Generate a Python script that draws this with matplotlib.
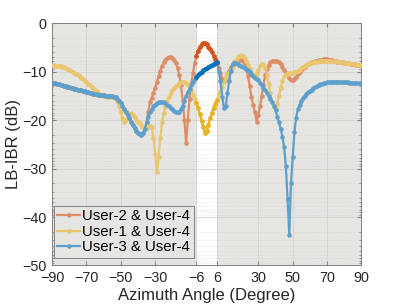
import numpy as np
import matplotlib
matplotlib.use("Agg")
from matplotlib import pyplot as plt
from matplotlib.colors import to_rgb

plt.rcParams['font.family'] = ['Liberation Sans', 'DejaVu Sans']

# azimuth angle, 1 degree steps
angulos = np.arange(-90, 91)

user3_4 = [-12.3, -12.35, -12.4, -12.5, -12.6, -12.7, -12.8, -12.9, -13.0, -13.1,
           -13.2, -13.3, -13.4, -13.5, -13.6, -13.7, -13.8, -13.9, -14.0, -14.1,
           -14.2, -14.3, -14.4, -14.5, -14.55, -14.6, -14.7, -14.8, -14.85, -14.9,
           -14.9, -14.95, -15.0, -15.0, -15.05, -15.1, -15.2, -15.3, -15.6, -16.0,
           -16.4, -17.0, -17.7, -18.4, -19.0, -19.6, -20.3, -21.0, -21.6, -22.2,
           -22.6, -22.9, -23.0, -22.7, -21.8, -20.5, -19.3, -18.4, -17.7, -17.2,
           -16.8, -16.5, -16.3, -16.2, -16.2, -16.3, -16.5, -16.8, -17.1, -17.5,
           -17.8, -18.1, -18.3, -18.4, -18.3, -17.8, -17.0, -16.0, -15.0, -14.2,
           -13.5, -12.8, -12.2, -11.6, -11.1, -10.7, -10.3, -10.0, -9.7, -9.5,
           -9.3, -9.1, -8.9, -8.7, -8.5, -8.2, -8.0, -10.0, -12.0, -15.2,
           -17.5, -17.2, -14.5, -12.0, -9.8, -8.5, -8.2, -8.2, -8.4, -8.6,
           -8.9, -9.1, -9.3, -9.5, -9.7, -10.1, -10.5, -11.0, -11.3, -11.5,
           -11.8, -12.3, -12.8, -13.3, -13.8, -14.4, -15.0, -15.6, -16.2, -17.0,
           -18.0, -19.3, -20.5, -21.8, -23.5, -25.5, -29.5, -36.2, -43.8, -32.9,
           -27.7, -22.5, -19.5, -17.8, -16.8, -16.0, -15.5, -15.1, -14.7, -14.3,
           -14.0, -13.7, -13.4, -13.2, -13.0, -12.8, -12.6, -12.5, -12.4, -12.3,
           -12.2, -12.2, -12.15, -12.1, -12.1, -12.1, -12.1, -12.1, -12.15, -12.2,
           -12.2, -12.2, -12.25, -12.3, -12.3, -12.3, -12.3, -12.35, -12.4, -12.4,
           -12.4]

user1_4 = [-8.7, -8.7, -8.75, -8.8, -8.85, -8.9, -9.0, -9.1, -9.3, -9.5,
           -9.7, -9.9, -10.1, -10.3, -10.5, -10.7, -11.0, -11.3, -11.6, -11.9,
           -12.2, -12.5, -12.8, -13.1, -13.4, -13.7, -14.0, -14.3, -14.6, -14.8,
           -15.0, -15.1, -15.2, -15.2, -15.25, -15.3, -15.4, -15.6, -16.0, -17.0,
           -18.3, -19.6, -20.4, -20.0, -19.2, -18.7, -18.6, -18.9, -19.4, -19.9,
           -20.3, -20.7, -21.1, -21.4, -21.6, -21.6, -21.4, -21.2, -21.5, -23.8,
           -27.0, -30.7, -27.6, -23.6, -20.5, -18.6, -17.2, -16.1, -15.2, -14.5,
           -13.9, -13.4, -13.0, -12.7, -12.4, -12.2, -12.1, -12.2, -12.4, -12.8,
           -13.3, -14.0, -14.8, -15.6, -16.5, -17.6, -18.8, -20.2, -21.5, -22.6,
           -22.3, -21.0, -19.6, -18.5, -17.5, -16.6, -15.8, -14.9, -14.0, -13.1,
           -12.2, -11.3, -10.6, -10.2, -9.6, -9.0, -8.3, -7.6, -7.0, -6.7,
           -6.6, -6.8, -7.3, -7.9, -8.6, -9.4, -10.2, -10.8, -11.0, -10.6,
           -9.7, -8.9, -8.4, -8.4, -9.2, -10.7, -12.6, -14.5, -16.2, -17.4,
           -17.6, -16.6, -15.0, -13.3, -11.9, -11.0, -10.6, -10.4, -10.3, -10.2,
           -10.2, -10.1, -10.0, -9.8, -9.6, -9.3, -9.0, -8.8, -8.6, -8.4,
           -8.3, -8.2, -8.1, -8.0, -7.95, -7.9, -7.85, -7.8, -7.8, -7.75,
           -7.75, -7.75, -7.8, -7.8, -7.85, -7.9, -7.95, -8.0, -8.05, -8.1,
           -8.15, -8.2, -8.25, -8.3, -8.35, -8.4, -8.5, -8.55, -8.6, -8.65,
           -8.7]

user2_4 = [-12.3, -12.35, -12.4, -12.5, -12.6, -12.7, -12.8, -12.9, -13.0, -13.1,
           -13.2, -13.3, -13.4, -13.5, -13.6, -13.7, -13.8, -13.9, -14.0, -14.1,
           -14.2, -14.3, -14.4, -14.5, -14.55, -14.6, -14.7, -14.8, -14.85, -14.9,
           -14.9, -14.95, -15.0, -15.0, -15.05, -15.1, -15.2, -15.3, -15.6, -16.0,
           -16.4, -17.0, -17.7, -18.4, -19.0, -19.6, -20.3, -21.0, -21.6, -22.2,
           -22.6, -22.9, -23.0, -22.7, -21.8, -20.5, -18.3, -16.3, -15.4, -14.4,
           -13.3, -12.2, -11.0, -9.8, -8.8, -8.1, -7.6, -7.2, -7.0, -7.0,
           -7.2, -7.6, -8.3, -9.3, -10.7, -12.8, -15.9, -20.0, -24.8, -20.0,
           -15.6, -12.5, -10.3, -8.2, -6.8, -5.7, -4.9, -4.4, -4.1, -4.1,
           -4.4, -4.9, -5.4, -6.0, -6.7, -7.5, -8.3, -9.3, -10.3, -11.5,
           -12.0, -11.5, -10.6, -9.8, -9.1, -8.5, -8.1, -7.8, -7.6, -7.6,
           -7.7, -7.9, -8.3, -9.4, -11.0, -13.0, -15.2, -16.9, -18.4, -20.3,
           -19.0, -17.2, -15.0, -12.7, -10.8, -9.5, -8.6, -8.1, -7.9, -7.8,
           -7.8, -7.9, -8.1, -8.5, -9.0, -9.6, -10.2, -10.8, -11.3, -11.7,
           -11.8, -11.6, -11.1, -10.6, -10.0, -9.6, -9.3, -9.0, -8.7, -8.5,
           -8.3, -8.1, -8.0, -7.9, -7.8, -7.7, -7.6, -7.55, -7.5, -7.5,
           -7.5, -7.55, -7.6, -7.7, -7.8, -7.9, -7.95, -8.0, -8.05, -8.1,
           -8.15, -8.2, -8.25, -8.3, -8.35, -8.4, -8.5, -8.55, -8.6, -8.65,
           -8.7]

series = [user2_4, user1_4, user3_4]
nombres = ['User-2 & User-4', 'User-1 & User-4', 'User-3 & User-4']
colores = ['#D95319', '#EDB120', '#0072BD']
fondo = '#e6e5e2'

xticks = [-90, -70, -50, -30, -6, 6, 30, 50, 70, 90]
yticks = [0, -10, -20, -30, -40, -50]


def desvanecer(col, a=0.6):
    c = np.array(to_rgb(col))
    f = np.array(to_rgb(fondo))
    return tuple(a * c + (1 - a) * f)


fig = plt.figure(figsize=(3.99, 3.08), dpi=100)
ax = fig.add_axes([0.1303, 0.138, 0.7757, 0.787])
ax.set_facecolor('white')
ax.axvspan(-90, -6, color=fondo, zorder=0, lw=0)
ax.axvspan(6, 90, color=fondo, zorder=0, lw=0)

x = angulos
dentro = (x >= -6) & (x <= 6)
for y, nom, col in zip(series, nombres, colores):
    y = np.array(y)
    ax.plot(x, y, color=desvanecer(col), lw=1.6, marker='.', ms=4.5, label=nom, zorder=3)
for y, col in zip(series, colores):
    y = np.array(y)
    ax.plot(x[dentro], y[dentro], color=col, lw=1.6, marker='.', ms=4.5, zorder=4)

ax.set_xlim(-90, 90)
ax.set_ylim(-50, 0)
ax.set_xticks(xticks)
ax.set_yticks(yticks)
# minor ticks (log-like spacing as in the original)
menores = []
for k in range(5):
    for n in range(2, 10):
        menores.append(-10 * k - 10 * np.log10(n))
ax.set_yticks(menores, minor=True)
ax.grid(True, which='major', color='#d2d2d0', lw=0.6, zorder=1)
ax.grid(True, which='minor', axis='y', color='#d6d6d4', lw=0.5, ls=':', zorder=1)
ax.set_axisbelow(True)
ax.tick_params(direction='in', top=True, right=True, which='both', colors='#808080',
               labelcolor='#262626', labelsize=10.4, length=3, pad=4)
ax.tick_params(which='minor', length=1.5)
for s in ax.spines.values():
    s.set_color('#808080')
    s.set_linewidth(0.7)

ax.set_xlabel('Azimuth Angle (Degree)', fontsize=12, color='#262626', labelpad=2)
ax.set_ylabel('LB-IBR (dB)', fontsize=12, color='#262626', labelpad=1)

leg = ax.legend(loc='lower left', bbox_to_anchor=(0.005, 0.03), fontsize=10.8,
                frameon=True, fancybox=False, handlelength=1.5, handletextpad=0.15,
                borderpad=0.25, labelspacing=0.1, borderaxespad=0.0)
leg.get_frame().set_facecolor(fondo)
leg.get_frame().set_edgecolor('#808080')
leg.get_frame().set_linewidth(0.7)
leg.get_frame().set_alpha(1)

fig.savefig('out.png', dpi=100)
